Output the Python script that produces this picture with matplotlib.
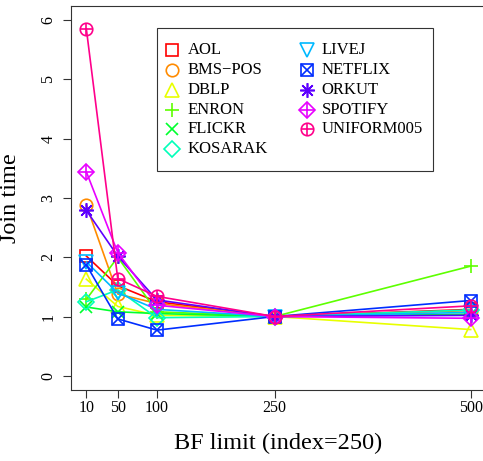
import matplotlib
matplotlib.use("Agg")
import matplotlib.pyplot as plt
import matplotlib.transforms as mtransforms

plt.rcParams['font.family'] = ['Liberation Serif', 'DejaVu Serif']

# ---- data ----
bf_limit = [10, 50, 100, 250, 500]
names = ["AOL", "BMS\u2212POS", "DBLP", "ENRON", "FLICKR", "KOSARAK",
         "LIVEJ", "NETFLIX", "ORKUT", "SPOTIFY", "UNIFORM005"]
aol = [2.02, 1.52, 1.25, 1.00, 1.12]
bms_pos = [2.88, 1.38, 1.22, 1.00, 1.10]
dblp = [1.63, 1.17, 1.02, 1.00, 0.78]
enron = [1.29, 2.00, 1.08, 1.00, 1.85]
flickr = [1.16, 1.08, 1.05, 1.00, 1.04]
kosarak = [1.25, 1.45, 0.98, 1.00, 1.11]
livej = [1.92, 1.40, 1.12, 1.00, 1.07]
netflix = [1.87, 0.96, 0.77, 1.00, 1.27]
orkut = [2.79, 2.02, 1.28, 1.00, 1.02]
spotify = [3.44, 2.08, 1.19, 1.00, 0.97]
uniform005 = [5.85, 1.64, 1.34, 1.00, 1.18]
series = [aol, bms_pos, dblp, enron, flickr, kosarak, livej, netflix,
          orkut, spotify, uniform005]
x_ticks = [10, 50, 100, 250, 500]
y_ticks = [0, 1, 2, 3, 4, 5, 6]

# ---- styles ----
colors = ["#FF0000", "#FF8B00", "#E8FF00", "#5DFF00", "#00FF2E", "#00FFB9",
          "#00B9FF", "#002EFF", "#5D00FF", "#E800FF", "#FF008B"]
# (primary marker, size, overlay marker, overlay size)
markers = [("s", 8.5, None, 0), ("o", 9, None, 0), ("^", 10.5, None, 0),
           ("+", 10.5, None, 0), ("x", 8.5, None, 0), ("D", 8, None, 0),
           ("v", 10.5, None, 0), ("s", 8.5, "x", 8.5), ((8, 2, 0), 10.5, None, 0),
           ("D", 8, "+", 11.3), ("o", 9, "+", 9)]
LW = 1.2
MEW = 1.2

W, H = 483, 461
fig = plt.figure(figsize=(W / 100, H / 100), dpi=100)
left, right, top, bottom = 71, 486, 6, 390
ax = fig.add_axes([left / W, 1 - bottom / H, (right - left) / W, (bottom - top) / H])
ax.set_xlim(10 - 0.04 * 490, 500 + 0.04 * 490)
ax.set_ylim(-0.24, 6.24)

for vals, col, (m1, s1, m2, s2) in zip(series, colors, markers):
    ax.plot(bf_limit, vals, color=col, lw=LW, marker=m1, ms=s1, mfc="none",
            mec=col, mew=MEW, clip_on=False)
    if m2 is not None:
        ax.plot(bf_limit, vals, ls="none", marker=m2, ms=s2, mec=col, mew=MEW,
                clip_on=False)

ax.set_xticks(x_ticks)
ax.set_xticklabels([str(v) for v in x_ticks], fontsize=11.5)
ax.set_yticks(y_ticks)
ax.set_yticklabels([str(v) for v in y_ticks], fontsize=11.5, rotation=90, va="center")
ax.tick_params(axis="both", direction="out", length=5.5, width=0.8, color="#333333")
ax.tick_params(axis="x", pad=2)
ax.tick_params(axis="y", pad=5)
for sp in ax.spines.values():
    sp.set_linewidth(0.8)
    sp.set_color("#333333")

ax.set_xlabel("BF limit (index=250)", fontsize=17.5, labelpad=12)
ax.set_ylabel("Join time", fontsize=17.5, labelpad=14)

# ---- legend (manual, in pixel coordinates) ----
ptrans = mtransforms.Affine2D().scale(1 / W, -1 / H).translate(0, 1) + fig.transFigure
box = plt.Rectangle((156.7, 28.3), 433 - 156.7, 171 - 28.3, transform=ptrans,
                    fill=True, facecolor="white", edgecolor="#333333", lw=0.8,
                    zorder=5)
fig.add_artist(box)
col_marker_x = [171.7, 306.7]
col_text_x = [188, 321.7]
row_y0, row_dy = 50, 19.86
for i, (name, col, (m1, s1, m2, s2)) in enumerate(zip(names, colors, markers)):
    c = 0 if i < 6 else 1
    r = i if i < 6 else i - 6
    yy = row_y0 + r * row_dy
    fig.add_artist(plt.Line2D([col_marker_x[c]], [yy], transform=ptrans, ls="none",
                              marker=m1, ms=s1, mfc="none", mec=col, mew=MEW, zorder=6))
    if m2 is not None:
        fig.add_artist(plt.Line2D([col_marker_x[c]], [yy], transform=ptrans, ls="none",
                                  marker=m2, ms=s2, mec=col, mew=MEW, zorder=6))
    fig.text(0, 0, name, transform=ptrans + mtransforms.Affine2D().translate(0, 0),
             fontsize=12, va="center", ha="left", zorder=6)
    fig.texts[-1].set_position((col_text_x[c], yy))

fig.savefig("out.png", dpi=100)
